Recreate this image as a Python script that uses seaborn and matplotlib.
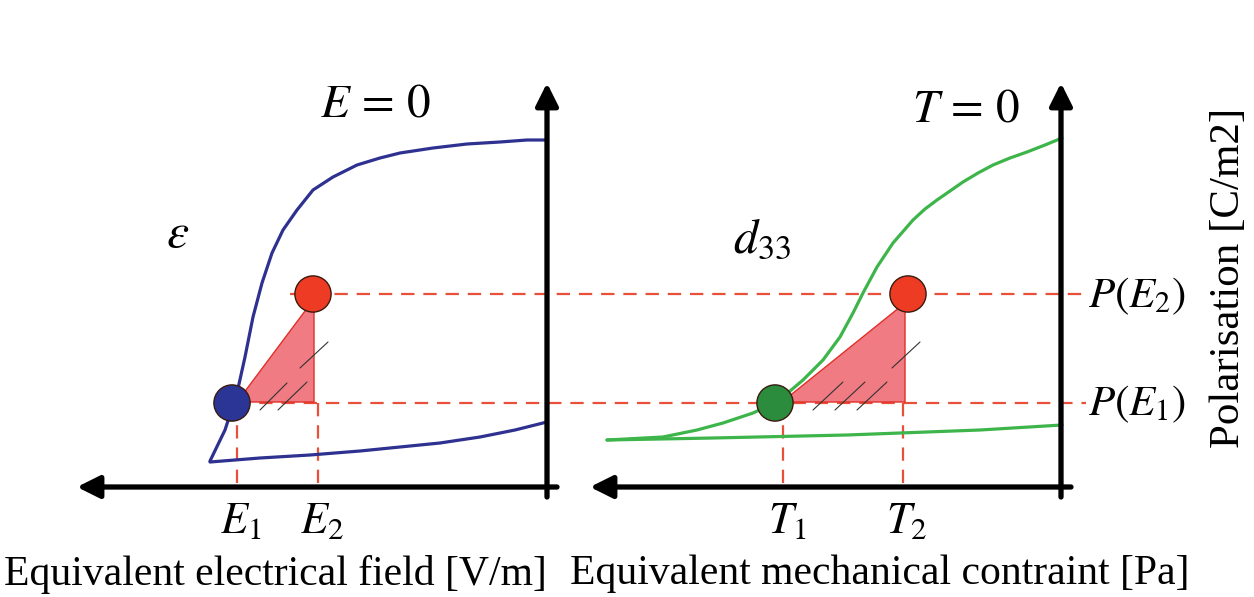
import numpy as np
import pandas as pd
import matplotlib
matplotlib.use("Agg")
import matplotlib.pyplot as plt
import matplotlib.font_manager as fm
import seaborn as sns

# -----------------------
# Data (diagram coordinates, y grows downward)
# -----------------------
# left panel: dielectric hysteresis branch
blue_up_x = [210, 225, 237, 245, 253, 262, 272, 283, 297, 313, 333, 357, 380, 400, 433, 467, 500, 527, 547]
blue_up_y = [461, 430, 393, 357, 317, 283, 253, 230, 210, 190, 177, 165, 158, 153, 148, 144, 142, 140, 140]
blue_lo_x = [210, 260, 310, 360, 400, 440, 480, 515, 547]
blue_lo_y = [462, 458, 455, 451, 447, 443, 437, 430, 422]

# right panel: piezo branch
green_up_x = [607, 663, 697, 723, 753, 777, 783, 803, 823, 840, 853, 863, 877, 893, 913, 925, 937, 950, 963, 978, 993, 1010, 1027, 1045, 1062]
green_up_y = [440, 437, 430, 423, 413, 402, 397, 380, 360, 337, 313, 293, 267, 243, 220, 209, 200, 191, 182, 173, 165, 158, 152, 145, 138]
green_lo_x = [607, 713, 847, 980, 1062]
green_lo_y = [440, 438, 435, 430, 425]

# operating points
pt_x = [232, 313, 775, 908]
pt_y = [403, 294, 403, 294]
pt_kind = ["E1", "E2", "T1", "T2"]

# polarisation levels P(E1), P(E2) and their start on the left
p_levels = [403, 294]
p_start = [237, 290]
# field / stress levels
x_levels = [237, 318, 783, 903]
x_labels = ["$E_1$", "$E_2$", "$T_1$", "$T_2$"]

# slope triangles
tri_left_x = [237, 314, 314]
tri_left_y = [402, 299, 402]
tri_right_x = [782, 905, 905]
tri_right_y = [402, 303, 402]

# hatch strokes inside the triangles
hatch_x0 = [260, 278, 300, 813, 835, 857, 892]
hatch_y0 = [410, 410, 368, 410, 410, 410, 368]
hatch_x1 = [287, 307, 328, 843, 865, 887, 920]
hatch_y1 = [383, 382, 342, 382, 382, 382, 342]

# axes: origin, left end of x axis, top end of y axis
axis_origin_x = [547, 1061]
axis_y0 = 487
axis_left = [77, 590]
axis_top = 83

sns.set_theme(style="white")
plt.rcParams["font.family"] = "serif"
plt.rcParams["font.serif"] = ["Liberation Serif", "DejaVu Serif"]
plt.rcParams["mathtext.fontset"] = "stix"
plt.rcParams["text.color"] = "black"

# pick the Times-like font by file, so the label font does not depend on lookup
serif_file = next((f for f in fm.findSystemFonts() if "LiberationSerif-Regular" in f), None)


def serif(size):
    if serif_file:
        return fm.FontProperties(fname=serif_file, size=size)
    return fm.FontProperties(family="serif", size=size)


fig = plt.figure(figsize=(12.54, 5.97), dpi=100)
ax = fig.add_axes([0, 0, 1, 1])
ax.set_xlim(0, 1254)
ax.set_ylim(597, 0)
ax.axis("off")

# dashed guide lines
dash = dict(color="#e8503a", lw=1.6, linestyle=(0, (6, 4)), zorder=1)
ax.hlines(p_levels, p_start, 1086, **dash)
ax.vlines(x_levels, p_levels[0], axis_y0, **dash)

# triangles
for tx, ty in [(tri_left_x, tri_left_y), (tri_right_x, tri_right_y)]:
    ax.fill(tx, ty, facecolor="#f07b82", edgecolor="#e0302a", lw=1.0, zorder=2)
for a, b, c, d in zip(hatch_x0, hatch_y0, hatch_x1, hatch_y1):
    ax.plot([a, c], [b, d], color="#333333", lw=0.8, zorder=3)

# curves
curves = pd.concat([
    pd.DataFrame({"x": blue_up_x, "y": blue_up_y, "branch": "blue_up"}),
    pd.DataFrame({"x": blue_lo_x, "y": blue_lo_y, "branch": "blue_lo"}),
    pd.DataFrame({"x": green_up_x, "y": green_up_y, "branch": "green_up"}),
    pd.DataFrame({"x": green_lo_x, "y": green_lo_y, "branch": "green_lo"}),
])
sns.lineplot(data=curves, x="x", y="y", hue="branch", sort=False, estimator=None,
             palette={"blue_up": "#2e3190", "blue_lo": "#2e3190",
                      "green_up": "#3db54a", "green_lo": "#3db54a"},
             linewidth=2.3, legend=False, ax=ax, zorder=4,
             solid_joinstyle="round", solid_capstyle="round")

# points
pts = pd.DataFrame({"x": pt_x, "y": pt_y, "kind": pt_kind})
sns.scatterplot(data=pts, x="x", y="y", hue="kind", s=680, edgecolor="#3a1a10",
                linewidth=1.0,
                palette={"E1": "#2b3595", "E2": "#ee3b24", "T1": "#2a8c3c", "T2": "#ee3b24"},
                legend=False, ax=ax, zorder=5)

# axes with arrow heads
for ox, lx in zip(axis_origin_x, axis_left):
    ax.annotate("", xy=(lx, axis_y0), xytext=(ox + 10, axis_y0),
                arrowprops=dict(arrowstyle="-|>", lw=3.8, color="black",
                                mutation_scale=34, shrinkA=0, shrinkB=0), zorder=6)
    ax.annotate("", xy=(ox, axis_top), xytext=(ox, axis_y0 + 10),
                arrowprops=dict(arrowstyle="-|>", lw=3.8, color="black",
                                mutation_scale=34, shrinkA=0, shrinkB=0), zorder=6)

# text
ax.text(375, 105, r"$E\,=\,0$", fontsize=34, ha="center", va="center")
ax.text(966, 110, r"$T\,=\,0$", fontsize=34, ha="center", va="center")
ax.text(178, 235, r"$\varepsilon$", fontsize=36, ha="center", va="center")
ax.text(762, 240, "$d_{33}$", fontsize=35, ha="center", va="center")
for xl, lab in zip(x_levels, x_labels):
    ax.text(xl + 4, 522, lab, fontsize=32, ha="center", va="center")
ax.text(1088, 296, "$P(E_2)$", fontsize=31, ha="left", va="center")
ax.text(1088, 404, "$P(E_1)$", fontsize=31, ha="left", va="center")
ax.text(1229, 278, "Polarisation [C/m2]", fontproperties=serif(31), rotation=90,
        ha="center", va="center")
ax.text(275, 574, "Equivalent electrical field [V/m]", fontproperties=serif(30),
        ha="center", va="center")
ax.text(880, 574, "Equivalent mechanical contraint [Pa]", fontproperties=serif(30),
        ha="center", va="center")

fig.savefig("out.png", dpi=100)
